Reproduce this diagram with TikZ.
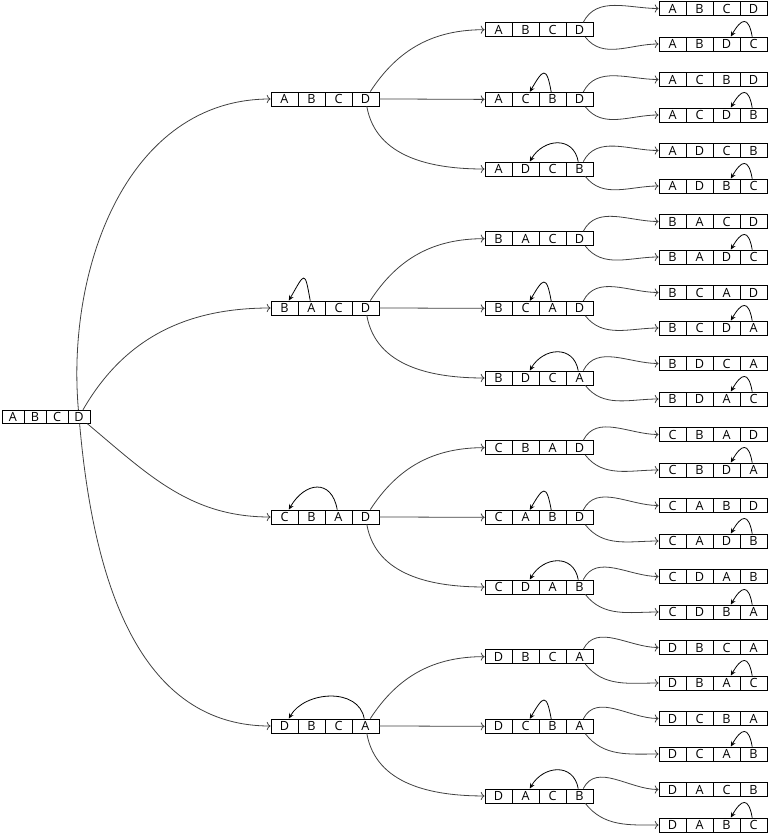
\documentclass[tikz,border=0pt]{standalone}
\usepackage{fontspec}
\setmainfont{Open Sans}
\usetikzlibrary{arrows.meta}
\begin{document}
\begin{tikzpicture}[x=0.75pt,y=0.75pt,line width=0.6pt,
  cell/.style={draw,minimum width=20.25pt,minimum height=10.5pt,inner sep=0pt,
               font=\fontsize{9.5}{10}\selectfont},
  rootcell/.style={cell,minimum width=16.5pt,minimum height=9.75pt},
  branch/.style={draw=black!75,->},
  swap/.style={-{Stealth[length=4pt,width=3.5pt]},distance=#1},
  swap/.default=18pt]
\path[use as bounding box] (0,0) rectangle (768,-834);
\foreach \l [count=\n] in {A,B,C,D}
  \node[rootcell] (r-\n) at ({2+22*\n-11},-416.7) {\l};
% first choice
\foreach \i/\w/\o in {1/{A,B,C,D}/95,2/{B,A,C,D}/60,3/{C,B,A,D}/-40,4/{D,B,C,A}/-85} {
  \foreach \l [count=\n] in \w
    \node[cell] (p\i-\n) at ({271+27*\n-13.5},{-99-209*(\i-1)}) {\l};
  \draw[branch] (r-4) to[out=\o,in=180] (p\i-1);
  \ifnum\i>1 \draw[swap=24pt] (p\i-\i) to[out=100,in=60] (p\i-1); \fi
}
% second choice
\foreach \nm/\pa/\br/\w [count=\m from 0] in {%
  p11/p1/1/{A,B,C,D},p12/p1/2/{A,C,B,D},p13/p1/3/{A,D,C,B},%
  p21/p2/1/{B,A,C,D},p22/p2/2/{B,C,A,D},p23/p2/3/{B,D,C,A},%
  p31/p3/1/{C,B,A,D},p32/p3/2/{C,A,B,D},p33/p3/3/{C,D,A,B},%
  p41/p4/1/{D,B,C,A},p42/p4/2/{D,C,B,A},p43/p4/3/{D,A,C,B}} {
  \foreach \l [count=\n] in \w
    \node[cell] (\nm-\n) at ({485+27*\n-13.5},{-29.7-69.66*\m}) {\l};
  \pgfmathsetmacro\o{{57,0,-80}[\br-1]}
  \draw[branch] (\pa-4) to[out=\o,in=180] (\nm-1);
  \ifnum\br>1 \pgfmathtruncatemacro\src{\br+1}
    \draw[swap=20pt] (\nm-\src) to[out=100,in=60] (\nm-2); \fi
}
% third choice
\foreach \nm/\pa/\br/\w [count=\m from 0] in {%
  p111/p11/1/{A,B,C,D},p112/p11/2/{A,B,D,C},p121/p12/1/{A,C,B,D},p122/p12/2/{A,C,D,B},%
  p131/p13/1/{A,D,C,B},p132/p13/2/{A,D,B,C},p211/p21/1/{B,A,C,D},p212/p21/2/{B,A,D,C},%
  p221/p22/1/{B,C,A,D},p222/p22/2/{B,C,D,A},p231/p23/1/{B,D,C,A},p232/p23/2/{B,D,A,C},%
  p311/p31/1/{C,B,A,D},p312/p31/2/{C,B,D,A},p321/p32/1/{C,A,B,D},p322/p32/2/{C,A,D,B},%
  p331/p33/1/{C,D,A,B},p332/p33/2/{C,D,B,A},p411/p41/1/{D,B,C,A},p412/p41/2/{D,B,A,C},%
  p421/p42/1/{D,C,B,A},p422/p42/2/{D,C,A,B},p431/p43/1/{D,A,C,B},p432/p43/2/{D,A,B,C}} {
  \foreach \l [count=\n] in \w
    \node[cell] (\nm-\n) at ({659+27*\n-13.5},{-8.5-35.5*\m}) {\l};
  \pgfmathsetmacro\o{{63,-52}[\br-1]}
  \draw[branch] (\pa-4) to[out=\o,in=180] (\nm-1);
  \ifnum\br>1 \draw[swap=16pt] (\nm-4) to[out=100,in=60] (\nm-3); \fi
}
\end{tikzpicture}
\end{document}
